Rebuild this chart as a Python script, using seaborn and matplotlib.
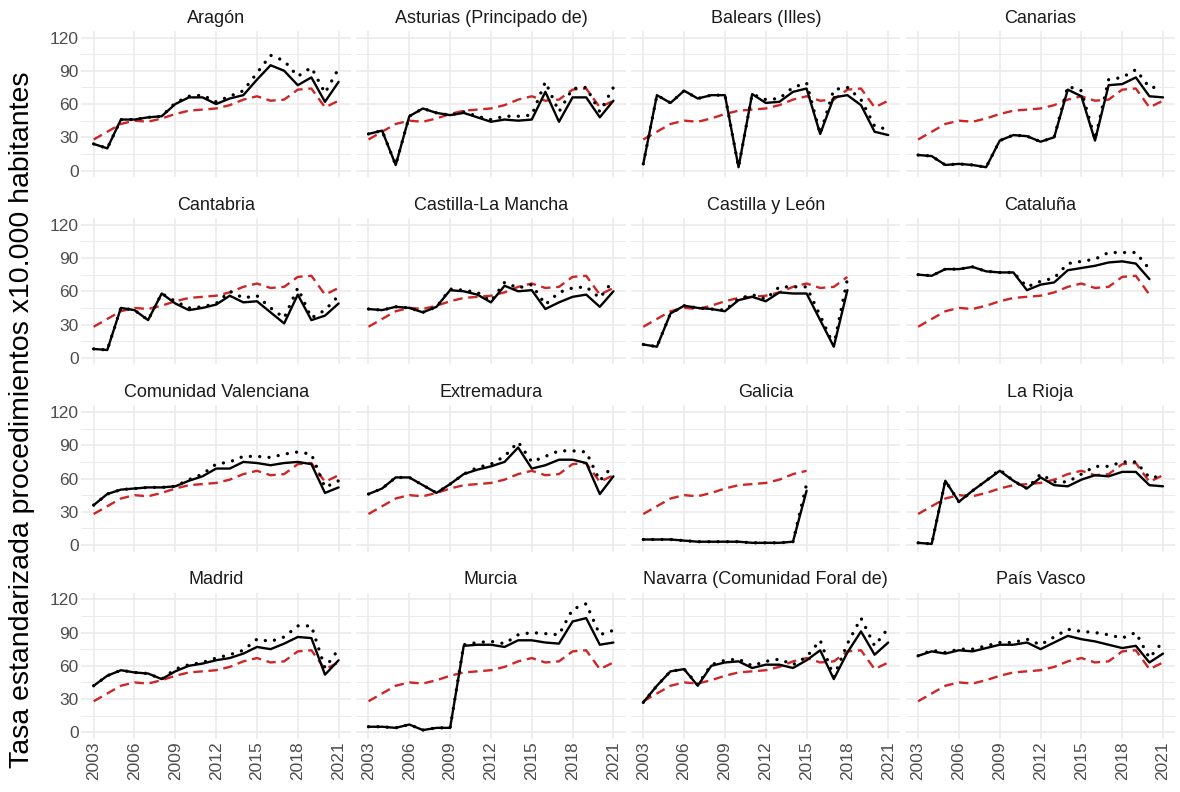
import numpy as np
import pandas as pd
import matplotlib
matplotlib.use("Agg")
import matplotlib.pyplot as plt
import seaborn as sns

nan = np.nan

years = list(range(2003, 2022))

regiones = [
    "Aragón", "Asturias (Principado de)", "Balears (Illes)", "Canarias",
    "Cantabria", "Castilla-La Mancha", "Castilla y León", "Cataluña",
    "Comunidad Valenciana", "Extremadura", "Galicia", "La Rioja",
    "Madrid", "Murcia", "Navarra (Comunidad Foral de)", "País Vasco",
]

# media nacional (linea roja discontinua)
nacional = [28, 35, 42, 45, 44, 47, 51, 54, 55, 56, 59, 64, 67, 63, 64, 73, 74, 57, 63]

# tasa estandarizada (linea continua)
tasa = {
    "Aragón": [24, 20, 46, 46, 48, 49, 60, 66, 66, 60, 65, 68, 82, 95, 90, 77, 84, 62, 80],
    "Asturias (Principado de)": [33, 36, 5, 49, 56, 52, 50, 52, 48, 44, 46, 45, 46, 71, 44, 66, 66, 48, 63],
    "Balears (Illes)": [6, 68, 61, 72, 65, 68, 68, 3, 69, 61, 62, 71, 74, 33, 66, 68, 59, 35, 32],
    "Canarias": [14, 13, 5, 6, 5, 3, 27, 32, 31, 26, 30, 73, 67, 27, 77, 78, 84, 67, 66],
    "Cantabria": [8, 7, 45, 43, 34, 58, 49, 43, 45, 48, 56, 50, 51, 41, 31, 57, 34, 38, 49],
    "Castilla-La Mancha": [44, 43, 46, 45, 41, 46, 61, 60, 57, 50, 65, 60, 61, 44, 50, 55, 57, 46, 60],
    "Castilla y León": [12, 10, 40, 47, 45, 44, 42, 52, 55, 51, 59, 58, 58, 34, 10, 61, nan, nan, nan],
    "Cataluña": [75, 74, 80, 80, 82, 78, 77, 77, 61, 66, 68, 79, 81, 83, 86, 87, 85, 71, nan],
    "Comunidad Valenciana": [36, 46, 50, 51, 52, 52, 53, 58, 62, 69, 69, 75, 74, 72, 74, 75, 73, 47, 52],
    "Extremadura": [46, 51, 61, 61, 54, 47, 55, 64, 68, 71, 75, 88, 69, 72, 77, 77, 74, 46, 62],
    "Galicia": [5, 5, 5, 4, 3, 3, 3, 3, 2, 2, 2, 3, 49, nan, nan, nan, nan, nan, nan],
    "La Rioja": [2, 1, 58, 39, 49, 58, 67, 58, 51, 61, 54, 53, 59, 63, 62, 66, 66, 54, 53],
    "Madrid": [42, 51, 56, 54, 53, 48, 55, 60, 62, 65, 67, 71, 77, 75, 80, 86, 85, 52, 65],
    "Murcia": [5, 5, 4, 7, 2, 4, 4, 78, 79, 79, 77, 83, 83, 81, 80, 100, 103, 79, 81],
    "Navarra (Comunidad Foral de)": [27, 42, 55, 57, 42, 60, 63, 64, 58, 61, 61, 58, 65, 74, 48, 72, 91, 70, 81],
    "País Vasco": [69, 73, 71, 74, 73, 76, 79, 79, 81, 75, 81, 87, 84, 82, 79, 76, 78, 63, 71],
}

# segunda tasa (linea punteada)
tasa_punteada = {
    "Aragón": [24, 20, 46, 46, 48, 49, 61, 67, 68, 62, 67, 72, 88, 104, 99, 85, 93, 70, 92],
    "Asturias (Principado de)": [33, 36, 5, 49, 56, 52, 50, 53, 49, 46, 49, 49, 50, 80, 53, 74, 75, 53, 75],
    "Balears (Illes)": [6, 68, 61, 72, 65, 68, 68, 3, 69, 64, 65, 75, 79, 33, 73, 75, 64, 40, 37],
    "Canarias": [14, 13, 5, 6, 5, 3, 27, 32, 31, 26, 30, 76, 72, 28, 82, 84, 91, 75, 75],
    "Cantabria": [8, 7, 45, 43, 34, 58, 51, 45, 46, 49, 60, 54, 56, 45, 36, 63, 36, 43, 56],
    "Castilla-La Mancha": [44, 43, 46, 45, 41, 46, 62, 61, 59, 51, 68, 63, 66, 48, 59, 63, 64, 54, 70],
    "Castilla y León": [12, 10, 40, 47, 45, 44, 43, 53, 57, 53, 64, 64, 64, 38, 11, 71, nan, nan, nan],
    "Cataluña": [75, 74, 80, 80, 82, 78, 77, 77, 64, 69, 72, 85, 87, 89, 95, 95, 95, 80, nan],
    "Comunidad Valenciana": [36, 46, 50, 51, 52, 52, 53, 59, 64, 73, 75, 80, 80, 79, 82, 84, 82, 52, 58],
    "Extremadura": [46, 51, 61, 61, 54, 47, 55, 64, 70, 73, 80, 93, 75, 80, 85, 85, 84, 58, 72],
    "Galicia": [5, 5, 5, 4, 3, 3, 3, 3, 2, 2, 2, 3, 55, nan, nan, nan, nan, nan, nan],
    "La Rioja": [2, 1, 58, 39, 49, 58, 68, 58, 51, 64, 57, 57, 64, 71, 71, 75, 75, 61, 62],
    "Madrid": [42, 51, 56, 54, 53, 48, 57, 61, 63, 67, 70, 74, 84, 82, 86, 96, 96, 58, 75],
    "Murcia": [5, 5, 4, 7, 2, 4, 4, 79, 81, 82, 80, 88, 90, 89, 88, 111, 116, 88, 92],
    "Navarra (Comunidad Foral de)": [27, 42, 55, 57, 43, 61, 65, 66, 60, 64, 66, 61, 68, 83, 50, 80, 103, 78, 94],
    "País Vasco": [69, 74, 72, 75, 75, 78, 81, 81, 84, 79, 86, 93, 91, 90, 88, 85, 90, 67, 82],
}

series = ["nacional", "punteada", "tasa"]
colores = {"nacional": "#CD2626", "punteada": "black", "tasa": "black"}
estilos = {
    "nacional": dict(linestyle=(0, (4, 2.4)), linewidth=1.7),
    "punteada": dict(linestyle=(0, (0.01, 2.8)), linewidth=2.4, dash_capstyle="round"),
    "tasa": dict(linestyle="-", linewidth=1.7),
}

rows = []
for region in regiones:
    for i, year in enumerate(years):
        if np.isnan(tasa[region][i]):
            continue
        rows.append((region, year, "nacional", nacional[i]))
        rows.append((region, year, "punteada", tasa_punteada[region][i]))
        rows.append((region, year, "tasa", tasa[region][i]))
df = pd.DataFrame(rows, columns=["region", "anio", "serie", "valor"])


def draw_lines(data, **kwargs):
    ax = plt.gca()
    for serie in series:
        sub = data[data["serie"] == serie]
        sns.lineplot(data=sub, x="anio", y="valor", color=colores[serie],
                     errorbar=None, ax=ax, **estilos[serie])


sns.set_theme(style="whitegrid")
plt.rcParams["font.family"] = ["Liberation Sans", "DejaVu Sans"]

g = sns.FacetGrid(df, col="region", col_wrap=4, col_order=regiones,
                  sharex=True, sharey=True, despine=False, height=2, aspect=1.4)
g.map_dataframe(draw_lines)
g.set_titles("{col_name}", size=13, color="#1A1A1A", pad=6)
g.set_axis_labels("", "")

for ax in g.axes.flat:
    ax.set_xlim(2003 - 0.9, 2021 + 0.9)
    ax.set_ylim(-6, 126)
    ax.set_xticks(range(2003, 2022, 3))
    ax.set_yticks([0, 30, 60, 90, 120])
    ax.set_yticks([15, 45, 75, 105], minor=True)
    ax.grid(which="major", color="#EBEBEB", linewidth=1.2)
    ax.grid(which="minor", axis="y", color="#EBEBEB", linewidth=0.7)
    ax.set_facecolor("white")
    for s in ax.spines.values():
        s.set_visible(False)
    ax.tick_params(axis="both", which="both", length=0, labelsize=12.5,
                   labelcolor="#4D4D4D", pad=2)
    ax.tick_params(axis="x", labelrotation=90)

fig = g.figure
fig.set_size_inches(11.8, 7.92)
fig.subplots_adjust(left=0.069, right=0.996, top=0.961, bottom=0.067,
                    wspace=0.02, hspace=0.28)
fig.text(0.019, 0.47, "Tasa estandarizada procedimientos x10.000 habitantes",
         rotation=90, ha="center", va="center", fontsize=20.5, color="black")

fig.savefig("out.png", dpi=100, facecolor="white")
